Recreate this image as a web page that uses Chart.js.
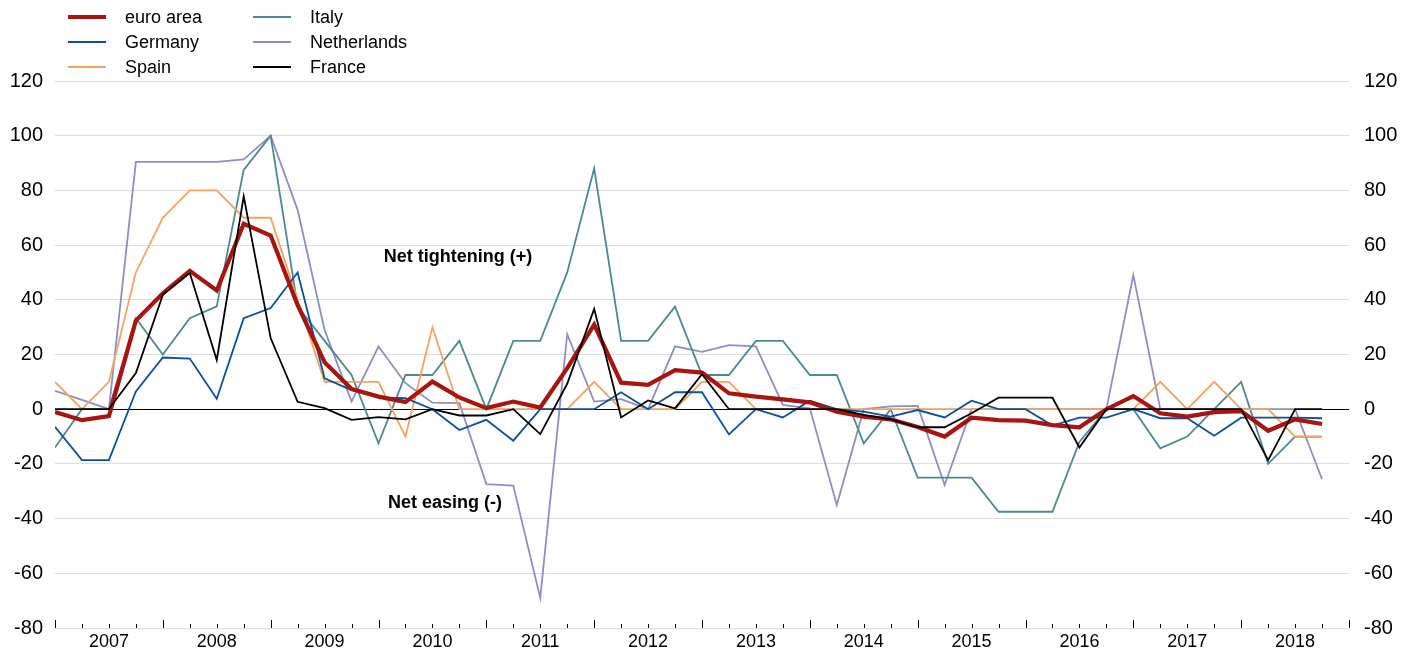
<!DOCTYPE html>
<html>
<head>
<meta charset="utf-8">
<script src="https://cdn.jsdelivr.net/npm/chart.js@4.4.1/dist/chart.umd.min.js"></script>
<style>
  html, body { margin: 0; padding: 0; background: #fff; }
  #wrap { position: relative; width: 1421px; height: 652px; }
  #legend { position: absolute; left: 0; top: 0; font-family: "Liberation Sans", Arial, sans-serif; font-size: 18px; color: #000; }
  .item { position: absolute; height: 24px; line-height: 24px; white-space: nowrap; }
  .item .sw { position: absolute; left: 0; width: 38px; top: 12px; }
  .item .lb { position: absolute; left: 57px; top: 0; }
</style>
</head>
<body>
<div id="wrap">
  <canvas id="chart" width="1421" height="652"></canvas>
  <div id="legend"></div>
</div>
<script>
// quarterly, 2007 Q1 .. 2018 Q4
const years = ['2007', '2008', '2009', '2010', '2011', '2012', '2013', '2014', '2015', '2016', '2017', '2018'];

const euroArea = [-1, -4, -2.5, 32.4, 42.4, 50.6, 43.4, 67.8, 63.5, 38, 17.2, 7.4,
  4.6, 2.6, 10.1, 4.3, 0.4, 2.8, 0.6, 15, 30.9, 9.7, 8.9, 14.3,
  13.4, 5.8, 4.6, 3.6, 2.5, -0.9, -2.7, -3.7, -6.5, -10, -3.1, -4,
  -4.2, -5.8, -6.6, 0, 4.8, -1.5, -2.7, -1.1, -0.7, -7.9, -3.7, -5.4];
const germany = [-6.4, -18.6, -18.6, 6.5, 18.9, 18.5, 3.8, 33.3, 37, 50, 11.3, 7,
  4.3, 4, 0, -7.6, -3.9, -11.5, 0, 0, 0, 6.2, 0, 6.2,
  6.2, -9.2, 0, -3, 3.1, 0, -0.9, -2.7, -0.3, -3, 3.1, 0,
  0, -6, -3.1, -3.1, 0, -3.3, -3.3, -9.7, -3.1, -3.1, -3.1, -3.3];
const spain = [10, 0, 10, 50, 70, 80, 80, 70, 70, 40, 10, 10,
  10, -10, 30, 0, 0, 0, 0, 0, 10, 0, 0, 0,
  10, 10, 0, 0, 0, 0, 0, 0, 0, 0, 0, 0,
  0, 0, 0, 0, 0, 10, 0, 10, 0, 0, -10, -10];
const italy = [-14, 0, 0, 33.3, 20, 33.3, 37.6, 87.5, 100, 37.5, 25, 12.5,
  -12.5, 12.5, 12.5, 25, 0, 25, 25, 50, 88, 25, 25, 37.5,
  12.5, 12.5, 25, 25, 12.5, 12.5, -12.5, 0, -25, -25, -25, -37.5,
  -37.5, -37.5, -12, 0, 0, -14.3, -10, 0, 10, -20, -10, -10];
const netherlands = [6.7, 3.4, 0, 90.4, 90.4, 90.4, 90.4, 91.3, 100, 72.9, 29, 2.8,
  22.9, 9.5, 2.4, 2.2, -27.4, -27.9, -69, 27.4, 2.8, 3.7, 0, 23,
  21, 23.4, 23, 1.6, 0.3, -35, 0, 1, 1.2, -27.7, 0, 0,
  0, 0, 0, 0, 49, 0, 0, 0, 0, 0, 0, -25.6];
const france = [0, 0, 0, 13.2, 41.8, 49.8, 18, 77.8, 26, 2.7, 0.4, -3.9,
  -2.9, -3.7, 0, -2.3, -2.3, 0, -9.1, 9.3, 36.7, -3, 3.2, 0.3,
  12.8, 0, 0, 0, 0, 0, -2.1, -3.7, -6.6, -6.6, -1.5, 4.2,
  4.2, 4.2, -14, 0, 0, 0, 0, 0, 0, -18.6, 0, 0];

const seriesNames = ['euro area', 'Germany', 'Spain', 'Italy', 'Netherlands', 'France'];
const seriesValues = [euroArea, germany, spain, italy, netherlands, france];
const seriesColors = ['#a8140f', '#0b4f9e', '#f4a25e', '#4b8a93', '#8e8ec6', '#000000'];
const seriesWidths = [4.2, 1.8, 1.8, 1.8, 1.8, 1.8];
const seriesOrder = [1, 2, 3, 4, 5, 0];

const notes = [
  { text: 'Net tightening (+)', x: 14.95, y: 55.6 },
  { text: 'Net easing (-)', x: 14.47, y: -34.3 }
];

const quarterCount = 48;
const fontFamily = '"Liberation Sans", Arial, sans-serif';

// small tick marks on the bottom edge: long at year ends, short at quarters
const quarterTicks = {
  id: 'quarterTicks',
  afterDatasetsDraw(chart) {
    const x = chart.scales.x;
    const area = chart.chartArea;
    const ctx = chart.ctx;
    ctx.save();
    ctx.strokeStyle = '#000';
    ctx.lineWidth = 1;
    for (let q = 0; q <= quarterCount; q++) {
      const px = Math.round(x.getPixelForValue(q)) + 0.5;
      const len = q % 4 === 0 ? 8 : 4;
      ctx.beginPath();
      ctx.moveTo(px, area.bottom);
      ctx.lineTo(px, area.bottom - len);
      ctx.stroke();
    }
    ctx.restore();
  }
};

const noteText = {
  id: 'noteText',
  afterDatasetsDraw(chart) {
    const ctx = chart.ctx;
    ctx.save();
    ctx.font = 'bold 18px ' + fontFamily;
    ctx.fillStyle = '#000';
    ctx.textAlign = 'center';
    ctx.textBaseline = 'middle';
    notes.forEach(n => {
      ctx.fillText(n.text, chart.scales.x.getPixelForValue(n.x), chart.scales.y.getPixelForValue(n.y));
    });
    ctx.restore();
  }
};

const datasets = seriesNames.map((name, i) => ({
  label: name,
  data: seriesValues[i].map((v, q) => ({ x: q, y: v })),
  borderColor: seriesColors[i],
  backgroundColor: seriesColors[i],
  borderWidth: seriesWidths[i],
  pointRadius: 0,
  tension: 0,
  fill: false,
  order: seriesOrder[i]
}));

// keep the vertical axes from pushing the plot bottom up
function fixVertical(scale, width) {
  scale.width = width;
  scale.paddingTop = 24;
  scale.paddingBottom = 24;
}

const ctx = document.getElementById('chart').getContext('2d');
const chart = new Chart(ctx, {
  type: 'line',
  data: { datasets: datasets },
  options: {
    responsive: false,
    animation: false,
    layout: { padding: { top: 81, left: 0, right: 0, bottom: 0 } },
    plugins: {
      legend: { display: false },
      tooltip: { enabled: false }
    },
    scales: {
      x: {
        type: 'linear',
        min: 0,
        max: quarterCount,
        grid: { display: false, drawTicks: false },
        border: { display: false },
        ticks: {
          stepSize: 2,
          autoSkip: false,
          maxRotation: 0,
          padding: 3,
          color: '#000',
          font: { family: fontFamily, size: 18 },
          callback: function (value) {
            return value % 4 === 2 ? years[(value - 2) / 4] : '';
          }
        },
        afterFit: function (scale) { scale.height = 24; }
      },
      y: {
        position: 'left',
        min: -80,
        max: 120,
        grid: {
          drawTicks: false,
          color: c => c.tick && c.tick.value === 0 ? '#000000' : '#dcdcdc',
          lineWidth: 1
        },
        border: { display: false },
        ticks: {
          stepSize: 20,
          padding: 12,
          color: '#000',
          font: { family: fontFamily, size: 20 }
        },
        afterFit: function (scale) { fixVertical(scale, 55); }
      },
      y2: {
        position: 'right',
        min: -80,
        max: 120,
        grid: { display: false, drawTicks: false },
        border: { display: false },
        ticks: {
          stepSize: 20,
          padding: 15,
          color: '#000',
          font: { family: fontFamily, size: 20 }
        },
        afterFit: function (scale) { fixVertical(scale, 72); }
      }
    }
  },
  plugins: [quarterTicks, noteText]
});

// legend: two columns of three
const legend = document.getElementById('legend');
chart.data.datasets.forEach((ds, i) => {
  const col = i < 3 ? 0 : 1;
  const row = i % 3;
  const item = document.createElement('div');
  item.className = 'item';
  item.style.left = (col === 0 ? 68 : 253) + 'px';
  item.style.top = (5 + row * 24.8) + 'px';
  const sw = document.createElement('span');
  sw.className = 'sw';
  const h = ds.borderWidth > 3 ? 4 : 2;
  sw.style.height = h + 'px';
  sw.style.marginTop = (-h / 2) + 'px';
  sw.style.background = ds.borderColor;
  const lb = document.createElement('span');
  lb.className = 'lb';
  lb.textContent = ds.label;
  item.appendChild(sw);
  item.appendChild(lb);
  legend.appendChild(item);
});
</script>
</body>
</html>
